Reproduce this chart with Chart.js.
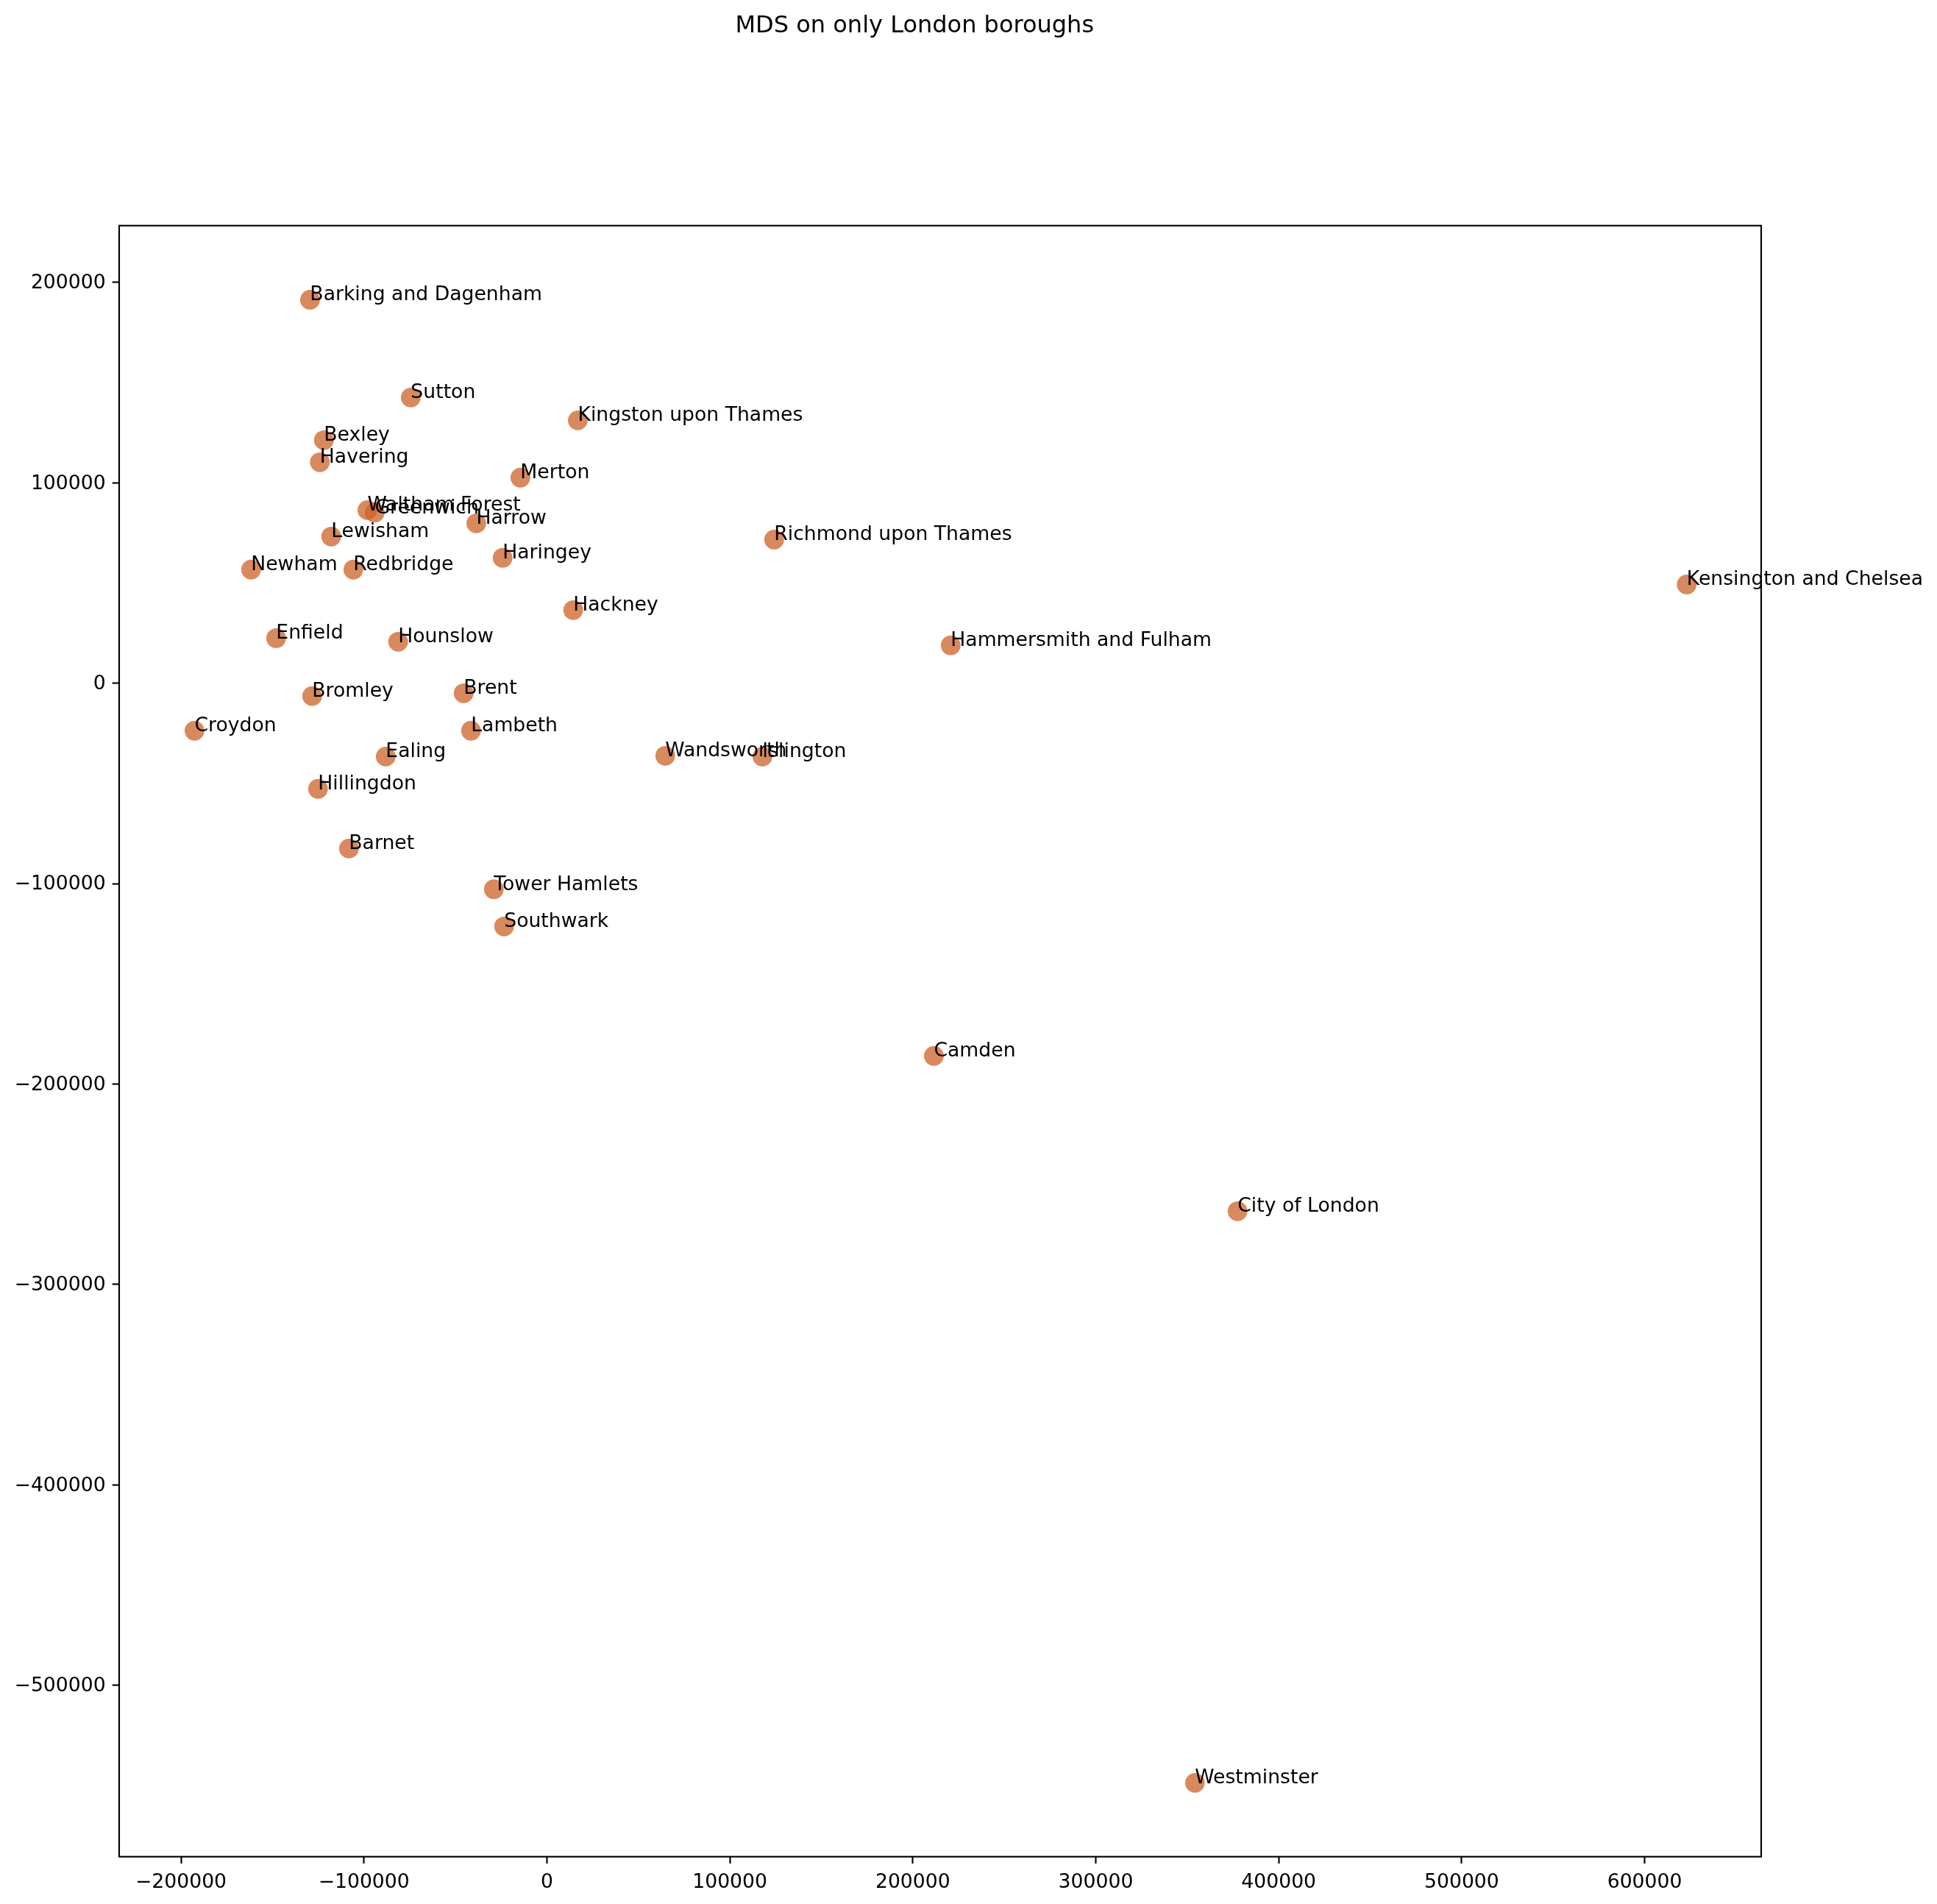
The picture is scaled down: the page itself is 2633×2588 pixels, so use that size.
<!DOCTYPE html>
<html>
<head>
<meta charset="utf-8">
<title>MDS on only London boroughs</title>
<script src="https://cdn.jsdelivr.net/npm/chart.js@4/dist/chart.umd.min.js"></script>
<style>
  html, body { margin: 0; padding: 0; background: #fff; }
  canvas { display: block; }
</style>
</head>
<body>
<canvas id="chart" width="2633" height="2588"></canvas>
<script>
const titleText = "MDS on only London boroughs";

const boroughs = [
  "Barking and Dagenham", "Barnet", "Bexley", "Brent", "Bromley", "Camden", "City of London",
  "Croydon", "Ealing", "Enfield", "Greenwich", "Hackney", "Hammersmith and Fulham", "Haringey",
  "Harrow", "Havering", "Hillingdon", "Hounslow", "Islington", "Kensington and Chelsea",
  "Kingston upon Thames", "Lambeth", "Lewisham", "Merton", "Newham", "Redbridge",
  "Richmond upon Thames", "Southwark", "Sutton", "Tower Hamlets", "Waltham Forest",
  "Wandsworth", "Westminster",
];
const xValues = [
  -129500, -108200, -121900, -45500, -128300, 211500, 377500,
  -192600, -88100, -148000, -94100, 14400, 220700, -24200,
  -38600, -124100, -125100, -81300, 117800, 623000,
  16900, -41500, -117900, -14500, -161700, -105800,
  124200, -23400, -74400, -29000, -98100,
  64700, 354200,
];
const yValues = [
  191400, -82500, 121300, -5000, -6400, -186000, -263500,
  -23700, -36600, 22500, 85200, 36500, 18900, 62600,
  79800, 110300, -52700, 20700, -36600, 49300,
  131200, -23700, 73200, 102600, 56700, 56700,
  71700, -121400, 142600, -102800, 86400,
  -36200, -548800,
];

const xTicks = [-200000, -100000, 0, 100000, 200000, 300000, 400000, 500000, 600000];
const yTicks = [-500000, -400000, -300000, -200000, -100000, 0, 100000, 200000];

const FONT = '"DejaVu Sans"';
const fmtTick = (v) => (v < 0 ? "\u2212" + Math.abs(v) : String(v));

// spines, point labels and the figure title, none of which chart.js places the way pyplot does
const figureBits = {
  id: "figureBits",
  afterUpdate(chart) {
    // y tick labels sit a touch lower than canvas "middle" puts them
    const y = chart.scales.y;
    if (y._labelsNudged) return;
    const drawLabels = y.drawLabels;
    y.drawLabels = function (area) {
      this.ctx.save();
      this.ctx.translate(0, 1.5);
      drawLabels.call(this, area);
      this.ctx.restore();
    };
    y._labelsNudged = true;
  },
  beforeDatasetsDraw(chart) {
    const { ctx, chartArea: a } = chart;
    ctx.save();
    ctx.strokeStyle = "#000";
    ctx.lineWidth = 2.13;
    ctx.strokeRect(a.left, a.top, a.right - a.left, a.bottom - a.top);
    ctx.restore();
  },
  afterDatasetsDraw(chart) {
    const { ctx, scales } = chart;
    ctx.save();
    ctx.fillStyle = "#000";
    ctx.textAlign = "left";
    ctx.textBaseline = "alphabetic";
    ctx.font = `26.67px ${FONT}`;
    boroughs.forEach((name, i) => {
      ctx.fillText(name, scales.x.getPixelForValue(xValues[i]), scales.y.getPixelForValue(yValues[i]) + 1);
    });
    ctx.font = `32px ${FONT}`;
    ctx.fillText(titleText, 999.5, 43.5);
    ctx.restore();
  },
};

new Chart(document.getElementById("chart"), {
  type: "scatter",
  data: {
    datasets: [
      {
        label: "London boroughs",
        data: xValues.map((x, i) => ({ x, y: yValues[i] })),
        backgroundColor: "rgba(204, 98, 40, 0.75)",
        borderWidth: 0,
        pointRadius: 13.4,
        pointHoverRadius: 13.4,
      },
    ],
  },
  options: {
    responsive: false,
    animation: false,
    devicePixelRatio: 1,
    layout: { padding: { left: 0, top: 306.7, right: 239, bottom: 0 } },
    plugins: { legend: { display: false }, title: { display: false }, tooltip: { enabled: false } },
    scales: {
      x: {
        type: "linear",
        min: -233780,
        max: 663700,
        afterBuildTicks: (s) => { s.ticks = xTicks.map((value) => ({ value })); },
        afterFit: (s) => { s.height = 64.3; },
        border: { display: false },
        grid: { drawOnChartArea: false, drawTicks: true, tickLength: 9.33, tickWidth: 2.13, tickColor: "#000" },
        ticks: {
          autoSkip: false,
          maxRotation: 0,
          padding: 10.5,
          color: "#000",
          font: { family: FONT, size: 26.67 },
          callback: (v) => fmtTick(v),
        },
      },
      y: {
        type: "linear",
        min: -585640,
        max: 228380,
        afterBuildTicks: (s) => { s.ticks = yTicks.map((value) => ({ value })); },
        afterFit: (s) => { s.width = 162; },
        border: { display: false },
        grid: { drawOnChartArea: false, drawTicks: true, tickLength: 9.33, tickWidth: 2.13, tickColor: "#000" },
        ticks: {
          autoSkip: false,
          padding: 9,
          color: "#000",
          font: { family: FONT, size: 26.67 },
          callback: (v) => fmtTick(v),
        },
      },
    },
  },
  plugins: [figureBits],
});
</script>
</body>
</html>
